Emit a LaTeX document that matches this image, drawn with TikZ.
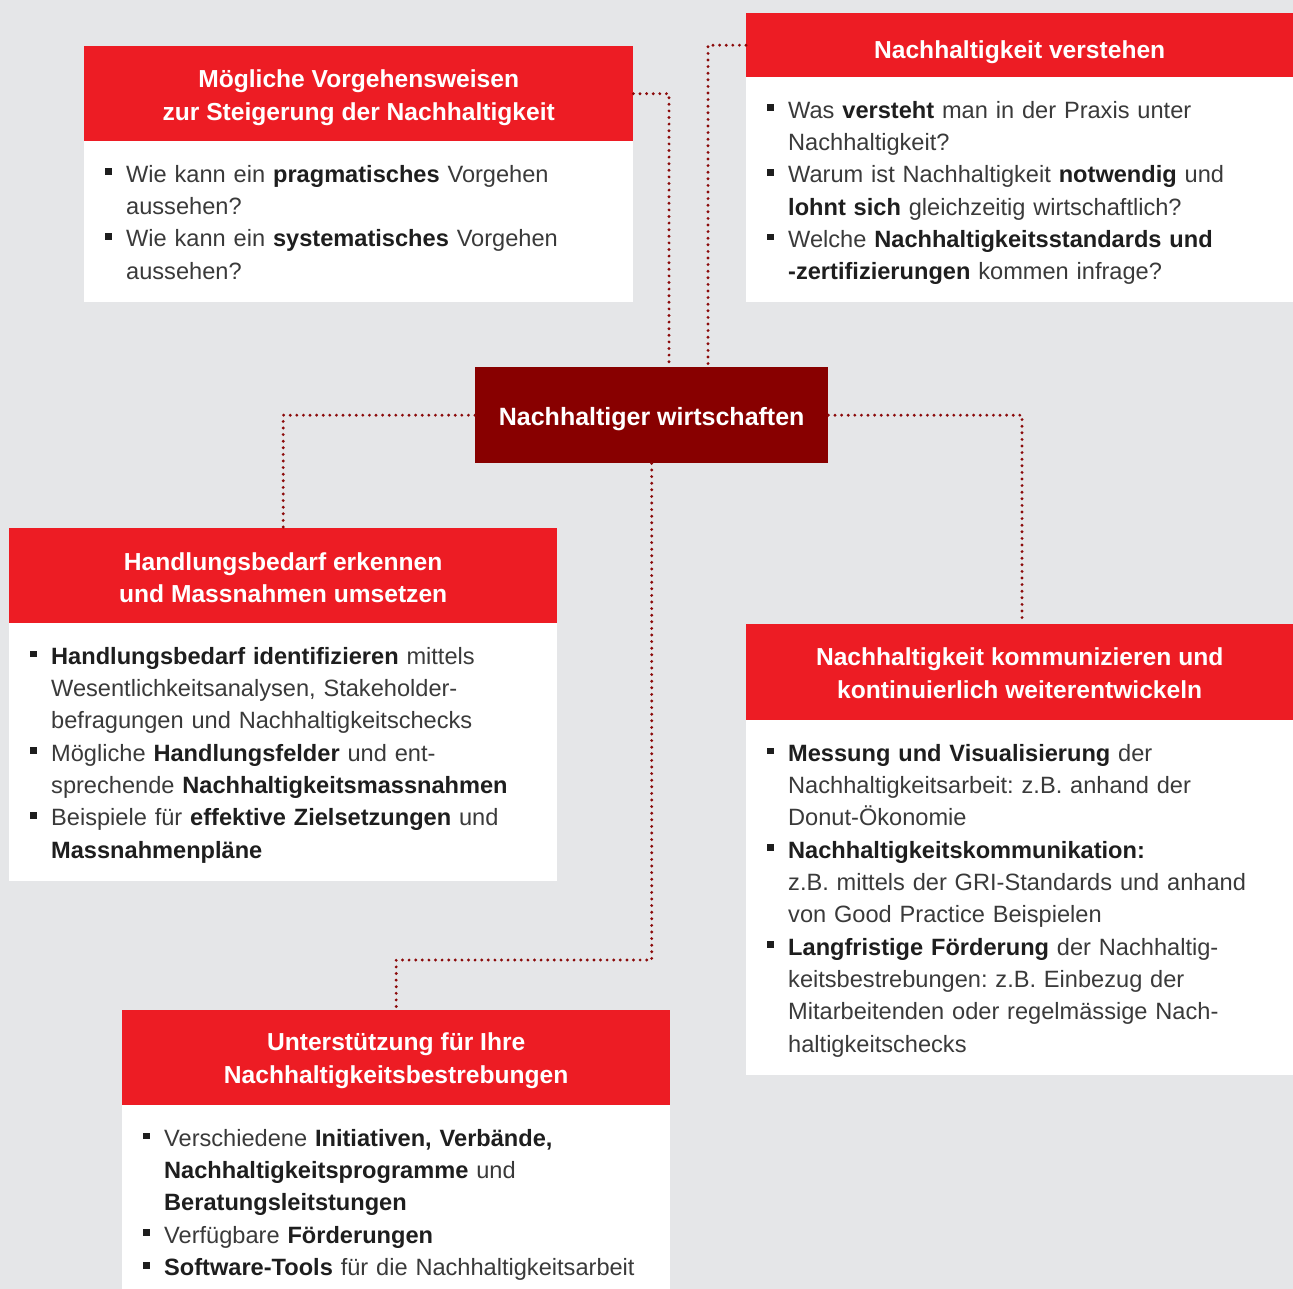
\documentclass[tikz,border=0pt]{standalone}
\usepackage{fontspec}
\setmainfont{Liberation Sans}
\definecolor{bgc}{HTML}{E5E6E8}
\definecolor{hred}{HTML}{ED1C24}
\definecolor{cred}{HTML}{880000}
\definecolor{dotc}{HTML}{8B0A0A}
\definecolor{txt}{HTML}{3A3A3A}
\definecolor{txtb}{HTML}{1E1E1E}
\frenchspacing
\newcommand{\hb}[1]{{\bfseries\color{txtb}#1}}
\newcommand{\itm}{\par\hangindent=21pt\hangafter=1\noindent\makebox[21pt][l]{\raisebox{7pt}{\color{txtb}\rule{6.8pt}{6.8pt}}}}
\begin{document}
\begin{tikzpicture}[x=1pt,y=-1pt,
  hdr/.style={fill=hred, draw=none, inner sep=0pt},
  htext/.style={inner sep=0pt, text=white, align=center,
    font=\fontsize{24.6}{32.3}\selectfont\bfseries},
  bodybox/.style={fill=white, draw=none, inner sep=0pt},
  list/.style={text width=545pt, align=left, inner sep=0pt, anchor=base west, text=txt,
    font=\fontsize{23.6}{32.3}\selectfont},
  dotline/.style={draw=dotc, line width=3.2pt, dash pattern=on 0pt off 6.6pt, line cap=round}
]
\fill[bgc] (0,0) rectangle (1293,1289);
\useasboundingbox (0,0) rectangle (1293,1289);

% Box 1
\node[bodybox, anchor=north west, minimum width=549pt, minimum height=161pt] (b1) at (84,141) {};
\node[hdr, anchor=north west, minimum width=549pt, minimum height=95pt] (h1) at (84,46) {};
\node[htext, yshift=-4pt] (t1) at (h1.center) {Mögliche Vorgehensweisen\\zur Steigerung der Nachhaltigkeit};
\node[list] (l1) at (105,150) {%
\itm Wie kann ein \hb{pragmatisches} Vorgehen\newline aussehen?
\itm Wie kann ein \hb{systematisches} Vorgehen\newline aussehen?\par};

% Box 2
\node[bodybox, anchor=north west, minimum width=547pt, minimum height=225pt] (b2) at (746,77) {};
\node[hdr, anchor=north west, minimum width=547pt, minimum height=64pt] (h2) at (746,13) {};
\node[htext, yshift=-7pt] (t2) at (h2.center) {Nachhaltigkeit verstehen};
\node[list] (l2) at (767,86) {%
\itm Was \hb{versteht} man in der Praxis unter\newline Nachhaltigkeit?
\itm Warum ist Nachhaltigkeit \hb{notwendig} und\newline \hb{lohnt sich} gleichzeitig wirtschaftlich?
\itm Welche \hb{Nachhaltigkeitsstandards und}\newline \hb{-zertifizierungen} kommen infrage?\par};

% Center
\node[fill=cred, inner sep=0pt, minimum width=353pt, minimum height=96pt, anchor=north west] (c) at (475,367) {};
\node[htext, font=\fontsize{25}{32}\selectfont\bfseries, yshift=-4pt] (ct) at (c.center) {Nachhaltiger wirtschaften};

% Box 3
\node[bodybox, anchor=north west, minimum width=548pt, minimum height=258pt] (b3) at (9,623) {};
\node[hdr, anchor=north west, minimum width=548pt, minimum height=95pt] (h3) at (9,528) {};
\node[htext, yshift=-2pt] (t3) at (h3.center) {Handlungsbedarf erkennen\\und Massnahmen umsetzen};
\node[list] (l3) at (30,632) {%
\itm \hb{Handlungsbedarf identifizieren} mittels\newline Wesentlichkeitsanalysen, Stakeholder-\newline befragungen und Nachhaltigkeitschecks
\itm Mögliche \hb{Handlungsfelder} und ent-\newline sprechende \hb{Nachhaltigkeitsmassnahmen}
\itm Beispiele für \hb{effektive Zielsetzungen} und\newline \hb{Massnahmenpläne}\par};

% Box 4
\node[bodybox, anchor=north west, minimum width=547pt, minimum height=355pt] (b4) at (746,720) {};
\node[hdr, anchor=north west, minimum width=547pt, minimum height=96pt] (h4) at (746,624) {};
\node[htext, yshift=-1pt] (t4) at (h4.center) {Nachhaltigkeit kommunizieren und\\kontinuierlich weiterentwickeln};
\node[list] (l4) at (767,729) {%
\itm \hb{Messung und Visualisierung} der\newline Nachhaltigkeitsarbeit: z.B. anhand der\newline Donut-Ökonomie
\itm \hb{Nachhaltigkeitskommunikation:}\newline z.B. mittels der GRI-Standards und anhand\newline von Good Practice Beispielen
\itm \hb{Langfristige Förderung} der Nachhaltig-\newline keitsbestrebungen: z.B. Einbezug der\newline Mitarbeitenden oder regelmässige Nach-\newline haltigkeitschecks\par};

% Box 5
\node[bodybox, anchor=north west, minimum width=548pt, minimum height=184pt] (b5) at (122,1105) {};
\node[hdr, anchor=north west, minimum width=548pt, minimum height=95pt] (h5) at (122,1010) {};
\node[htext, yshift=-3pt] (t5) at (h5.center) {Unterstützung für Ihre\\Nachhaltigkeitsbestrebungen};
\node[list] (l5) at (143,1114) {%
\itm Verschiedene \hb{Initiativen, Verbände,}\newline \hb{Nachhaltigkeitsprogramme} und\newline \hb{Beratungsleitstungen}
\itm Verfügbare \hb{Förderungen}
\itm \hb{Software-Tools} für die Nachhaltigkeitsarbeit\par};

% Connectors
\coordinate (ka) at (669,0);
\coordinate (kb) at (708,0);
\coordinate (kc) at (0,960);
\coordinate (kd) at (1022,0);
\draw[dotline] (h1.east) -| (c.north -| ka);
\draw[dotline] (h2.west) -| (c.north -| kb);
\draw[dotline] (c.west) -| (h3.north);
\draw[dotline] (c.east) -| (h4.north -| kd);
\draw[dotline] (c.south) -- (c.south |- kc) -| (h5.north);
\end{tikzpicture}
\end{document}
